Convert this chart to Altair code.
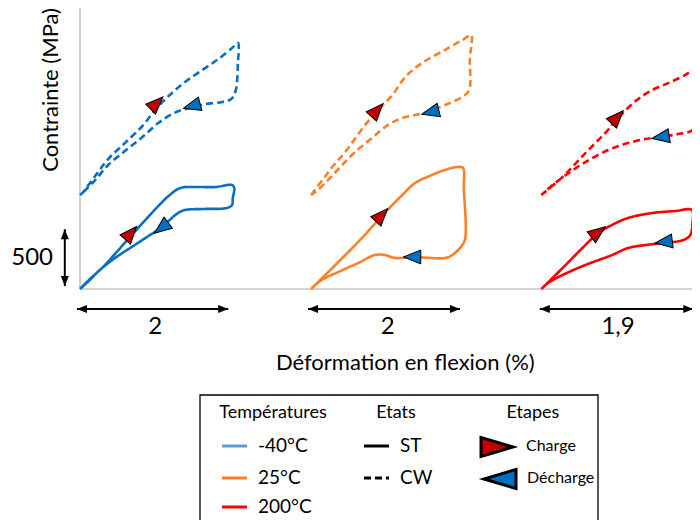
import altair as alt
import pandas as pd

FONT = "Lato"

# ---------------- data (strain in %, stress in MPa) ----------------
TEMPS = ["-40°C", "25°C", "200°C"]
STATES = ["ST", "CW"]
LINE_COLORS = ["#0A6FC2", "#FF7F27", "#FF0000"]
LEGEND_COLORS = ["#5B9BD5", "#FF7F27", "#FF0000"]
PANEL_OFFSET = [0.0, 3.04, 6.07]   # horizontal shift of each temperature panel (%)
CW_OFFSET = 810                    # vertical shift of CW curves (MPa)

T40_ST_STRAIN = [0.00, 0.13, 0.29, 0.46, 0.68, 0.86, 1.03, 1.18, 1.32, 1.51, 1.78, 2.00, 2.03,
                 2.01, 2.00, 1.93, 1.64, 1.38, 1.29, 1.18, 1.08, 0.92, 0.72, 0.46, 0.26, 0.13, 0.00]
T40_ST_STRESS = [0, 86, 181, 302, 465, 595, 715, 810, 871, 879, 879, 896, 871,
                 784, 724, 698, 690, 681, 655, 595, 534, 465, 379, 267, 164, 78, 0]

T40_CW_STRAIN = [0.00, 0.03, 0.20, 0.37, 0.59, 0.82, 1.01, 1.18, 1.38, 1.61, 1.82, 2.00, 2.08,
                 2.09, 2.08, 2.05, 1.99, 1.87, 1.64, 1.49, 1.34, 1.21, 1.03, 0.82, 0.59, 0.37, 0.20, 0.03, 0.00]
T40_CW_STRESS = [0, 17, 164, 310, 448, 595, 750, 862, 974, 1078, 1172, 1267, 1310,
                 1267, 1164, 905, 828, 802, 784, 759, 733, 698, 621, 500, 379, 259, 129, 17, 0]

T25_ST_STRAIN = [0.00, 0.36, 0.67, 0.93, 1.20, 1.37, 1.59, 1.76, 1.93, 2.00,
                 2.01, 2.03, 1.99, 1.86, 1.76, 1.33, 1.11, 0.97, 0.84, 0.62, 0.36, 0.14, 0.00]
T25_ST_STRESS = [0, 233, 440, 629, 810, 914, 983, 1026, 1052, 1043,
                 871, 440, 379, 293, 267, 276, 267, 293, 293, 224, 147, 78, 0]

T25_CW_STRAIN = [0.00, 0.16, 0.29, 0.45, 0.71, 0.87, 1.07, 1.24, 1.46, 1.76, 1.99, 2.11,
                 2.11, 2.09, 2.08, 1.99, 1.76, 1.57, 1.37, 1.20, 1.01, 0.80, 0.58, 0.41, 0.25, 0.09, 0.00]
T25_CW_STRESS = [0, 138, 250, 371, 603, 724, 862, 1017, 1138, 1250, 1336, 1379,
                 1293, 1181, 905, 845, 776, 724, 690, 664, 603, 491, 371, 259, 147, 43, 0]

T200_ST_STRAIN = [0.00, 0.28, 0.54, 0.75, 0.93, 1.14, 1.46, 1.76, 1.98,
                  1.99, 1.96, 1.87, 1.61, 1.37, 1.14, 0.93, 0.58, 0.28, 0.09, 0.00]
T200_ST_STRESS = [0, 181, 353, 483, 552, 612, 655, 672, 681,
                  578, 465, 422, 397, 379, 353, 293, 207, 121, 52, 0]

T200_CW_STRAIN = [0.00, 0.28, 0.58, 0.84, 1.01, 1.24, 1.46, 1.67, 1.89, 2.09, 2.22,
                  2.23, 2.10, 2.08, 1.99, 1.80, 1.57, 1.37, 1.14, 0.88, 0.58, 0.36, 0.18, 0.00]
T200_CW_STRESS = [0, 155, 362, 534, 664, 810, 905, 965, 1034, 1121, 1190,
                  1050, 879, 672, 560, 526, 500, 483, 448, 388, 284, 190, 103, 0]

CURVES = [
    ("-40°C", "ST", T40_ST_STRAIN, T40_ST_STRESS),
    ("-40°C", "CW", T40_CW_STRAIN, T40_CW_STRESS),
    ("25°C", "ST", T25_ST_STRAIN, T25_ST_STRESS),
    ("25°C", "CW", T25_CW_STRAIN, T25_CW_STRESS),
    ("200°C", "ST", T200_ST_STRAIN, T200_ST_STRESS),
    ("200°C", "CW", T200_CW_STRAIN, T200_CW_STRESS),
]

# direction markers (strain %, stress MPa) on each curve
STEPS = ["Charge", "Décharge"]
CHARGE_POINTS = {("-40°C", "ST"): (0.67, 483), ("-40°C", "CW"): (1.01, 793),
                 ("25°C", "ST"): (0.93, 638), ("25°C", "CW"): (0.87, 733),
                 ("200°C", "ST"): (0.75, 491), ("200°C", "CW"): (1.00, 672)}
DISCHARGE_POINTS = {("-40°C", "ST"): (1.07, 526), ("-40°C", "CW"): (1.47, 767),
                    ("25°C", "ST"): (1.33, 276), ("25°C", "CW"): (1.57, 715),
                    ("200°C", "ST"): (1.61, 405), ("200°C", "CW"): (1.57, 500)}
CHARGE_DIR = {("-40°C", "ST"): 311, ("-40°C", "CW"): 315, ("25°C", "ST"): 313,
              ("25°C", "CW"): 312, ("200°C", "ST"): 323, ("200°C", "CW"): 313}
DISCHARGE_DIR = {("-40°C", "ST"): 143, ("-40°C", "CW"): 165, ("25°C", "ST"): 180,
                 ("25°C", "CW"): 166, ("200°C", "ST"): 173, ("200°C", "CW"): 171}

# scale bars
STRAIN_BARS = [(-0.04, 1.95), (3.00, 5.00), (6.05, 8.07)]
STRAIN_BAR_LABELS = ["2", "2", "1,9"]
STRAIN_BAR_LABEL_X = [0.99, 4.05, 7.08]
STRESS_BAR = (25, 515)
STRESS_BAR_LABEL = "500"

# ---------------- tables ----------------
rows = []
for t, s, es, sig in CURVES:
    off = PANEL_OFFSET[TEMPS.index(t)]
    voff = CW_OFFSET if s == "CW" else 0
    for i, (e, v) in enumerate(zip(es, sig)):
        rows.append({"curve": t + s, "temp": t, "state": s, "i": i, "x": e + off, "y": v + voff})
curve_df = pd.DataFrame(rows)

tri = []
for key in CHARGE_POINTS:
    t, s = key
    off = PANEL_OFFSET[TEMPS.index(t)]
    voff = CW_OFFSET if s == "CW" else 0
    e, v = CHARGE_POINTS[key]
    tri.append({"x": e + off, "y": v + voff, "step": "Charge", "ang": CHARGE_DIR[key]})
    e, v = DISCHARGE_POINTS[key]
    tri.append({"x": e + off, "y": v + voff, "step": "Décharge", "ang": DISCHARGE_DIR[key]})
tri_df = pd.DataFrame(tri)

# plot area = page pixels 8..692 x 8..520 ; 76 px per % strain, 0.116 px per MPa
X_MIN, X_MAX = -72 / 76, 612 / 76
Y_MIN, Y_MAX = -231 / 0.116, 281 / 0.116
XS = alt.Scale(domain=[X_MIN, X_MAX], nice=False, zero=False)
YS = alt.Scale(domain=[Y_MIN, Y_MAX], nice=False, zero=False)


def X(f):
    return alt.X(f, type="quantitative", scale=XS, axis=None)


def Y(f):
    return alt.Y(f, type="quantitative", scale=YS, axis=None)


layers = []

# axis lines
axes_df = pd.DataFrame({"x": [0.0, 0.0], "x2": [0.0, X_MAX], "y": [0.0, 0.0], "y2": [Y_MAX, 0.0]})
layers.append(alt.Chart(axes_df).mark_rule(color="#C4C4C4", strokeWidth=1.6).encode(
    x=X("x"), x2="x2", y=Y("y"), y2="y2"))

# curves
layers.append(alt.Chart(curve_df).mark_line(strokeWidth=2.6, interpolate="catmull-rom").encode(
    x=X("x"), y=Y("y"),
    color=alt.Color("temp:N", scale=alt.Scale(domain=TEMPS, range=LINE_COLORS), legend=None),
    strokeDash=alt.StrokeDash("state:N", scale=alt.Scale(domain=STATES, range=[[1, 0], [7, 4]]), legend=None),
    detail="curve:N",
    order=alt.Order("i:Q"),
))

# direction triangles
TRI_PATH = "M 1 0 L -1 -0.8 L -1 0.8 Z"
layers.append(alt.Chart(tri_df).mark_point(shape=TRI_PATH, size=300, filled=True, opacity=1,
                                           stroke="black", strokeWidth=1, strokeOpacity=1).encode(
    x=X("x"), y=Y("y"),
    angle=alt.Angle("ang:Q", scale=None),
    fill=alt.Fill("step:N", scale=alt.Scale(domain=STEPS, range=["#C00000", "#0070C0"]), legend=None),
))

# scale bars
HEAD = "M 0 0 L -2 -0.8 L -2 0.8 Z"
hb = pd.DataFrame({"x": [b[0] for b in STRAIN_BARS], "x2": [b[1] for b in STRAIN_BARS],
                   "y": [-172] * len(STRAIN_BARS)})
layers.append(alt.Chart(hb).mark_rule(color="black", strokeWidth=2).encode(x=X("x"), x2="x2", y=Y("y")))
heads = []
for a, b in STRAIN_BARS:
    heads.append({"x": a, "y": -172, "ang": 180})
    heads.append({"x": b, "y": -172, "ang": 0})
heads.append({"x": -0.20, "y": STRESS_BAR[0], "ang": 90})
heads.append({"x": -0.20, "y": STRESS_BAR[1], "ang": 270})
layers.append(alt.Chart(pd.DataFrame(heads)).mark_point(shape=HEAD, size=100, filled=True, opacity=1,
                                                        color="black").encode(
    x=X("x"), y=Y("y"), angle=alt.Angle("ang:Q", scale=None)))
vb = pd.DataFrame({"x": [-0.20], "y": [STRESS_BAR[0]], "y2": [STRESS_BAR[1]]})
layers.append(alt.Chart(vb).mark_rule(color="black", strokeWidth=2).encode(x=X("x"), y=Y("y"), y2="y2"))

lab = pd.DataFrame({"x": STRAIN_BAR_LABEL_X + [-0.63], "y": [-328] * 3 + [267],
                    "t": STRAIN_BAR_LABELS + [STRESS_BAR_LABEL]})
layers.append(alt.Chart(lab).mark_text(font=FONT, fontSize=24, color="black", baseline="middle").encode(
    x=X("x"), y=Y("y"), text="t:N"))

# axis titles
tt = pd.DataFrame({"x": [4.28], "y": [-640], "t": ["Déformation en flexion (%)"]})
layers.append(alt.Chart(tt).mark_text(font=FONT, fontSize=22, color="black", baseline="middle").encode(
    x=X("x"), y=Y("y"), text="t:N"))
yt = pd.DataFrame({"x": [-0.38], "y": [1716], "t": ["Contrainte (MPa)"]})
layers.append(alt.Chart(yt).mark_text(font=FONT, fontSize=22, color="black", baseline="middle", angle=270).encode(
    x=X("x"), y=Y("y"), text="t:N"))

# ---------------- legend box (pixel positions inside the plot area) ----------------
one = pd.DataFrame({"a": [0]})
layers.append(alt.Chart(one).mark_rect(fill="white", stroke="black", strokeWidth=1.3).encode(
    x=alt.value(192), x2=alt.value(590), y=alt.value(387), y2=alt.value(600)))


def txt(s, x, y, size, align="left"):
    return alt.Chart(pd.DataFrame({"t": [s]})).mark_text(
        font=FONT, fontSize=size, align=align, baseline="middle", color="black").encode(
        x=alt.value(x), y=alt.value(y), text="t:N")


def seg(x1, x2, y, color, dash=None):
    kw = {"strokeDash": dash} if dash else {}
    return alt.Chart(one).mark_rule(color=color, strokeWidth=3, **kw).encode(
        x=alt.value(x1), x2=alt.value(x2), y=alt.value(y))


layers.append(txt("Températures", 265, 405, 18, "center"))
layers.append(txt("Etats", 388, 405, 18, "center"))
layers.append(txt("Etapes", 525, 405, 18, "center"))
for t, c, yy in zip(TEMPS, LEGEND_COLORS, [438, 470, 499]):
    layers.append(seg(214, 239, yy, c))
    layers.append(txt(t, 250, yy, 19))
layers.append(seg(356, 381, 438, "black"))
layers.append(txt("ST", 392, 438, 19))
layers.append(seg(356, 381, 470, "black", [7, 4]))
layers.append(txt("CW", 392, 470, 19))

LEG_TRI = "M 0 0 L -2 -0.6 L -2 0.6 Z"
for step, col, xx, yy, ang in [("Charge", "#C00000", 505, 439, 0), ("Décharge", "#0070C0", 476, 471, 180)]:
    layers.append(alt.Chart(one).mark_point(shape=LEG_TRI, size=1024, filled=True, opacity=1,
                                            fill=col, stroke="black", strokeWidth=3, strokeOpacity=1,
                                            angle=ang).encode(x=alt.value(xx), y=alt.value(yy)))
layers.append(txt("Charge", 518, 438, 16))
layers.append(txt("Décharge", 519, 470, 16))

chart = alt.layer(*layers).properties(
    width=684, height=512,
    autosize=alt.AutoSizeParams(type="none"),
    padding=0,
).configure_view(stroke=None)

chart.save("out.html", embed_options={"renderer": "svg", "actions": False})
